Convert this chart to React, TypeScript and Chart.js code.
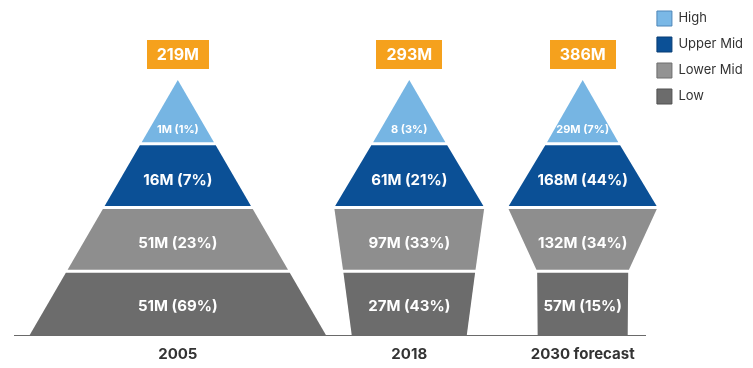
import { useEffect, useRef } from 'react';
import { Chart, registerables } from 'chart.js';

Chart.register(...registerables);

// ---- data ----
const CATEGORIES = ['2005', '2018', '2030 forecast'];
const TOTALS = ['219M', '293M', '386M'];
const LEVELS = ['High', 'Upper Mid', 'Lower Mid', 'Low'];
const HIGH = ['1M (1%)', '8 (3%)', '29M (7%)'];
const UPPER_MID = ['16M (7%)', '61M (21%)', '168M (44%)'];
const LOWER_MID = ['51M (23%)', '97M (33%)', '132M (34%)'];
const LOW = ['51M (69%)', '27M (43%)', '57M (15%)'];

// ---- shape / layout (not data) ----
const X_MAX = 631.5;
const CENTERS = [163.7, 395, 568.3];
// half widths at the level boundaries, bottom (0) to apex (4)
const PROFILE = [
  [148, 111, 74, 37, 0],
  [57.5, 66, 75, 37, 0],
  [45, 45.5, 74.8, 36.5, 0],
];
const GAP = 0.024;
const Y_MAX = 5.255;
const TOTAL_Y = 4.4;
const LABEL_OFFSET = [0.45, 0.44, 0.42, 0.22];

// bottom-up order
const SERIES = [LOW, LOWER_MID, UPPER_MID, HIGH];
const SERIES_NAMES = [LEVELS[3], LEVELS[2], LEVELS[1], LEVELS[0]];
const FILL = ['#6C6C6C', '#8E8E8E', '#0B5096', '#76B5E3'];
const LEGEND_FILL: Record<string, string> = {
  High: '#7AB8E6',
  'Upper Mid': '#0B5096',
  'Lower Mid': '#939393',
  Low: '#6C6C6C',
};
const LEGEND_STROKE: Record<string, string> = {
  High: '#4F86B8',
  'Upper Mid': '#083D74',
  'Lower Mid': '#6E6E6E',
  Low: '#515151',
};
const FONT = 'Inter';

function lerp(a: number, b: number, t: number) {
  return a + (b - a) * t;
}

function polygon(c: number, L: number) {
  const p = PROFILE[c];
  const cx = CENTERS[c];
  const y0 = L + (L > 0 ? GAP : 0);
  const y1 = L + 1 - (L < 3 ? GAP : 0);
  const hb = lerp(p[L], p[L + 1], y0 - L);
  const ht = lerp(p[L], p[L + 1], y1 - L);
  return [
    { x: cx - hb, y: y0 },
    { x: cx + hb, y: y0 },
    { x: cx + ht, y: y1 },
    { x: cx - ht, y: y1 },
    { x: cx - hb, y: y0 },
  ];
}

// lets the filled shapes spill slightly past the axis end (as in the source)
const widenFillArea = {
  id: 'widenFillArea',
  beforeDatasetsDraw(chart: any) {
    chart.$savedArea = chart.chartArea;
    chart.chartArea = { ...chart.chartArea, right: chart.width };
  },
  afterDatasetsDraw(chart: any) {
    if (chart.$savedArea) chart.chartArea = chart.$savedArea;
  },
};

const labelPlugin = {
  id: 'pyramidLabels',
  afterDatasetsDraw(chart: any) {
    const { ctx } = chart;
    const x = chart.scales.x;
    const y = chart.scales.y;
    ctx.save();
    ctx.textAlign = 'center';
    ctx.textBaseline = 'middle';
    ctx.fillStyle = '#FFFFFF';
    SERIES.forEach((labels, L) => {
      ctx.font = L === 3 ? `700 11px ${FONT}` : `700 15px ${FONT}`;
      labels.forEach((t, c) => {
        ctx.fillText(t, x.getPixelForValue(CENTERS[c]), y.getPixelForValue(L + LABEL_OFFSET[L]));
      });
    });
    ctx.font = `700 16px ${FONT}`;
    TOTALS.forEach((t, c) => {
      const px = x.getPixelForValue(CENTERS[c]);
      const py = y.getPixelForValue(TOTAL_Y);
      const w = ctx.measureText(t).width + 20;
      const h = 29;
      ctx.fillStyle = '#F5A11D';
      ctx.fillRect(Math.round(px - w / 2), Math.round(py - h / 2), Math.round(w), h);
      ctx.fillStyle = '#FFFFFF';
      ctx.fillText(t, px, py + 1);
    });
    ctx.restore();
  },
};

export default function App() {
  const ref = useRef<HTMLCanvasElement>(null);
  useEffect(() => {
    if (!ref.current) return;
    const datasets: any[] = [];
    SERIES.forEach((_, L) => {
      CATEGORIES.forEach((__, c) => {
        datasets.push({
          label: SERIES_NAMES[L],
          data: polygon(c, L),
          showLine: true,
          fill: 'shape',
          clip: false,
          backgroundColor: FILL[L],
          borderColor: 'rgba(0,0,0,0)',
          borderWidth: 0,
          pointRadius: 0,
          pointHoverRadius: 0,
          tension: 0,
        });
      });
    });
    const chart = new Chart(ref.current, {
      type: 'scatter',
      data: { datasets },
      plugins: [widenFillArea, labelPlugin],
      options: {
        animation: false,
        responsive: false,
        events: [],
        layout: { padding: { left: 14, top: 0, bottom: 6, right: 0 } },
        scales: {
          x: {
            type: 'linear',
            min: 0,
            max: X_MAX,
            grid: { display: false, drawTicks: false },
            border: { display: true, color: '#6A6A6A', width: 1 },
            afterBuildTicks: (axis: any) => {
              axis.ticks = CENTERS.map((v) => ({ value: v }));
            },
            afterFit: (axis: any) => {
              axis.height = 27;
            },
            ticks: {
              autoSkip: false,
              maxRotation: 0,
              padding: 10,
              color: '#333333',
              font: { family: FONT, size: 15, weight: 'bold' },
              callback: (_v: any, i: number) => CATEGORIES[i],
            },
          },
          y: {
            type: 'linear',
            display: false,
            min: 0,
            max: Y_MAX,
          },
        },
        plugins: {
          tooltip: { enabled: false },
          legend: {
            position: 'right',
            align: 'start',
            labels: {
              boxWidth: 15,
              boxHeight: 15,
              padding: 11,
              color: '#333333',
              font: { family: FONT, size: 13 },
              generateLabels: () =>
                LEVELS.map((name) => ({
                  text: name,
                  fillStyle: LEGEND_FILL[name],
                  strokeStyle: LEGEND_STROKE[name],
                  lineWidth: 1,
                  hidden: false,
                  fontColor: '#333333',
                })),
            },
          },
        },
      } as any,
    });
    return () => chart.destroy();
  }, []);
  return (
    <div style={{ position: 'fixed', left: 0, top: 0, width: 753, height: 368, background: '#fff' }}>
      <canvas ref={ref} width={753} height={368} style={{ display: 'block' }} />
    </div>
  );
}
